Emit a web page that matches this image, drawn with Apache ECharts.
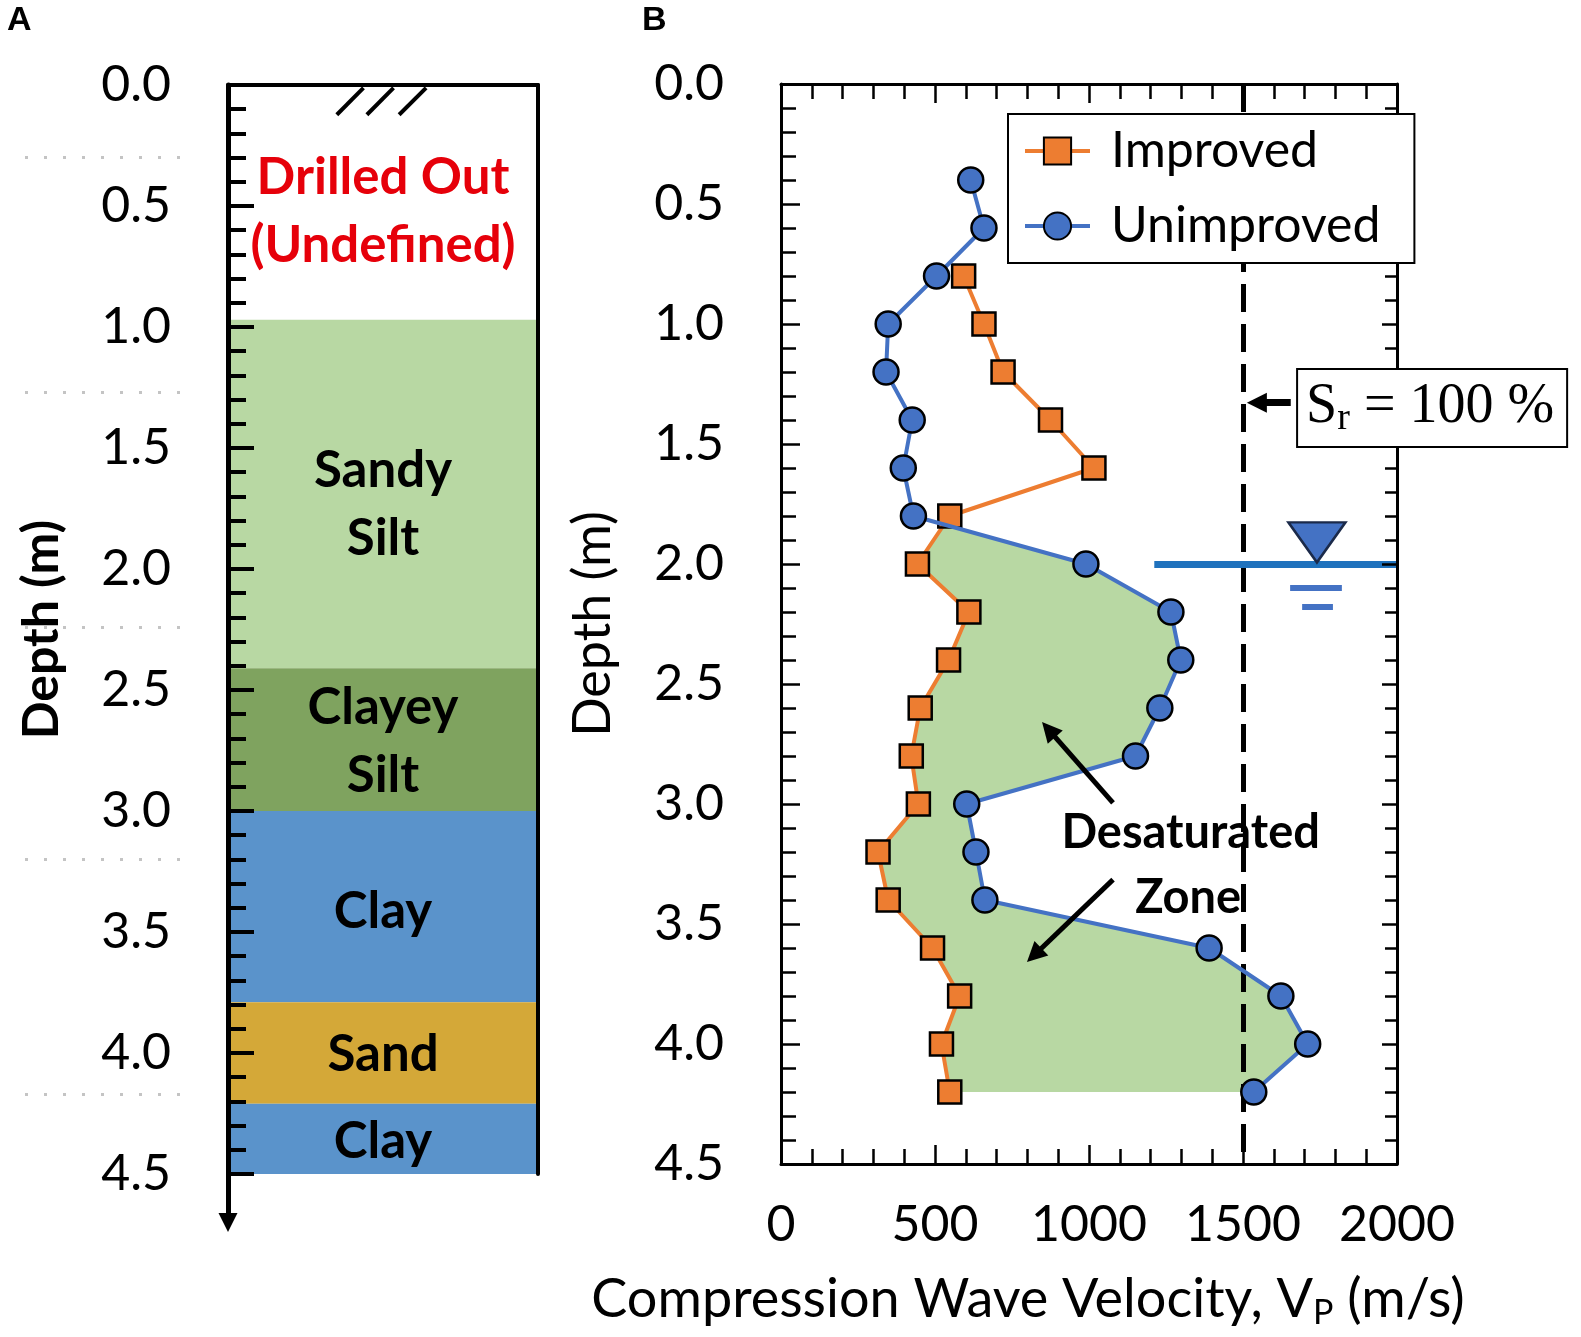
<!DOCTYPE html>
<html lang="en">
<head>
<meta charset="UTF-8">
<title>Soil profile and compression wave velocity</title>
<script src="https://cdn.jsdelivr.net/npm/echarts@6/dist/echarts.min.js"></script>
<style>
    html, body { margin: 0; padding: 0; background: #fff; }
    #main { width: 1581px; height: 1337px; }
</style>
</head>
<body>
<div id="main"></div>
<script type="text/javascript">
    // ---- panel B: compression wave velocity profiles ----
    var depthImproved = [0.8, 1.0, 1.2, 1.4, 1.6, 1.8, 2.0, 2.2, 2.4, 2.6, 2.8, 3.0, 3.2, 3.4, 3.6, 3.8, 4.0, 4.2];
    var vpImproved    = [593, 659, 721, 875, 1016, 548, 443, 610, 544, 452, 423, 446, 315, 348, 492, 580, 521, 548];

    var depthUnimproved = [0.4, 0.6, 0.8, 1.0, 1.2, 1.4, 1.6, 1.8, 2.0, 2.2, 2.4, 2.6, 2.8, 3.0, 3.2, 3.4, 3.6, 3.8, 4.0, 4.2];
    var vpUnimproved    = [616, 659, 505, 348, 341, 426, 397, 430, 990, 1266, 1298, 1230, 1151, 603, 633, 662, 1390, 1623, 1710, 1535];

    var depthTicks = [0, 0.5, 1.0, 1.5, 2.0, 2.5, 3.0, 3.5, 4.0, 4.5];

    var saturationVp = 1500;          // Sr = 100 %
    var waterTableDepth = 2.0;
    var waterLineVp = [1212, 2000];
    var waterSymbol = [1740, 1.91];
    var waterDashes = [[[1653, 2.10], [1821, 2.10]], [[1692, 2.18], [1792, 2.18]]];

    var zoneArrows = [[[1078, 2.995], [869, 2.69]], [[1078, 3.315], [822, 3.63]]];
    var zoneText = [['Desaturated', 1330, 3.12], ['Zone', 1322, 3.39]];
    var srArrow = [[1655, 1.328], [1545, 1.328]];
    var srBox = [2114, 1.35];

    // ---- panel A: soil column ----
    var layerTop    = [0.97, 2.41, 3.0, 3.79, 4.21];
    var layerBottom = [2.41, 3.0, 3.79, 4.21, 4.5];
    var layerColor  = ['#b8d8a3', '#7fa35f', '#5a93cb', '#d4a838', '#5a93cb'];
    var layerLabels = ['Drilled Out\n(Undefined)', 'Sandy\nSilt', 'Clayey\nSilt', 'Clay', 'Sand', 'Clay'];
    var layerLabelDepth = [0.523, 1.735, 2.715, 3.415, 4.005, 4.365];
    var hatchFrom = [[0.351, 0.123], [0.448, 0.123], [0.552, 0.123]];
    var hatchTo   = [[0.437, 0.012], [0.534, 0.012], [0.639, 0.012]];
    var columnArrow = [4.5, 4.70];
    var guideDepth = [0.30, 1.27, 2.24, 3.20, 4.17];

    function vpAtDepth(depths, vps, d) {
        var k = depths.indexOf(d);
        return k < 0 ? null : vps[k];
    }

    // polygon between the two profiles, from where unimproved crosses to the right
    var desatZone = (function () {
        var d = depthImproved, start = -1;
        for (var j = 0; j + 1 < d.length; j++) {
            var u0 = vpAtDepth(depthUnimproved, vpUnimproved, d[j]);
            var u1 = vpAtDepth(depthUnimproved, vpUnimproved, d[j + 1]);
            if (u0 < vpImproved[j] && u1 > vpImproved[j + 1]) start = j;
        }
        var g0 = vpAtDepth(depthUnimproved, vpUnimproved, d[start]) - vpImproved[start];
        var g1 = vpAtDepth(depthUnimproved, vpUnimproved, d[start + 1]) - vpImproved[start + 1];
        var t = -g0 / (g1 - g0);
        var pts = [[vpImproved[start] + t * (vpImproved[start + 1] - vpImproved[start]),
                    d[start] + t * (d[start + 1] - d[start])]];
        for (var k = start + 1; k < d.length; k++) {
            pts.push([vpAtDepth(depthUnimproved, vpUnimproved, d[k]), d[k]]);
        }
        for (var k2 = d.length - 1; k2 > start; k2--) {
            pts.push([vpImproved[k2], d[k2]]);
        }
        return pts;
    })();

    var FONT = 'Lato';
    var myChart = echarts.init(document.getElementById('main'));

    var tickStyle = {color: '#000', width: 2.5};
    var hidden = {color: 'rgba(0,0,0,0)', opacity: 1};
    function depthLabel(v) { return depthTicks.indexOf(v) >= 0 ? v.toFixed(1) : ''; }

    var option = {
        animation: false,
        backgroundColor: '#fff',
        title: [
            {text: 'A', left: 7, top: 4, padding: 0,
             textStyle: {fontFamily: 'Liberation Sans', fontWeight: 'bold', fontSize: 34, color: '#000'}},
            {text: 'B', left: 642, top: 4, padding: 0,
             textStyle: {fontFamily: 'Liberation Sans', fontWeight: 'bold', fontSize: 34, color: '#000'}}
        ],
        legend: {
            data: ['Improved', 'Unimproved'],
            orient: 'vertical',
            left: 1008, top: 114,
            itemWidth: 65, itemHeight: 34, itemGap: 25,
            padding: [12, 34, 12, 15],
            borderColor: '#000', borderWidth: 2,
            backgroundColor: '#fff',
            selectedMode: false,
            z: 10,
            lineStyle: {width: 4},
            textStyle: {fontFamily: FONT, fontSize: 50, lineHeight: 50, color: '#000', padding: [0, 0, 0, 16]}
        },
        grid: [
            {left: 228, top: 85, width: 310, height: 1089, containLabel: false, outerBoundsMode: 'none'},
            {left: 781, top: 84, width: 616, height: 1080, containLabel: false, outerBoundsMode: 'none'},
            {left: 25, top: 85, width: 160, height: 1089, containLabel: false, outerBoundsMode: 'none'}
        ],
        xAxis: [
            {gridIndex: 0, type: 'value', min: 0, max: 1, position: 'top', z: 5,
             axisLine: {onZero: false, lineStyle: {color: '#000', width: 4}},
             axisTick: {show: false}, axisLabel: {show: false}, splitLine: {show: false}},
            {gridIndex: 1, type: 'value', min: 0, max: 2000, interval: 500, position: 'bottom', z: 5,
             axisLine: {onZero: false, lineStyle: {color: '#000', width: 3}},
             axisTick: {inside: true, length: 19, lineStyle: tickStyle},
             minorTick: {show: true, splitNumber: 5, length: 15, lineStyle: tickStyle},
             splitLine: {show: false},
             axisLabel: {fontFamily: FONT, fontSize: 50, color: '#000', margin: 36,
                         formatter: function (v) { return String(v); }},
             name: 'Compression Wave Velocity, V{p|P} (m/s)',
             nameLocation: 'middle', nameGap: 106,
             nameTextStyle: {fontFamily: FONT, fontSize: 54, lineHeight: 60, color: '#000', padding: [0, 122, 0, 0],
                             rich: {p: {fontFamily: FONT, fontSize: 34, lineHeight: 24, verticalAlign: 'bottom', color: '#000'}}}},
            {gridIndex: 1, type: 'value', min: 0, max: 2000, interval: 500, position: 'top', z: 5,
             axisLine: {onZero: false, lineStyle: {color: '#000', width: 3}},
             axisTick: {inside: true, length: 19, lineStyle: tickStyle},
             minorTick: {show: true, splitNumber: 5, length: 15, lineStyle: tickStyle},
             splitLine: {show: false}, axisLabel: {show: false}},
            {gridIndex: 2, type: 'value', min: 0, max: 1, show: false}
        ],
        yAxis: [
            {gridIndex: 0, type: 'value', inverse: true, min: 0, max: 4.5, interval: 0.5, position: 'left', z: 5,
             axisLine: {onZero: false, lineStyle: {color: '#000', width: 5}},
             axisTick: {inside: true, length: 26, lineStyle: {color: '#000', width: 4}},
             minorTick: {show: true, splitNumber: 5, length: 18, lineStyle: {color: '#000', width: 4}},
             splitLine: {show: false},
             axisLabel: {fontFamily: FONT, fontSize: 50, color: '#000', margin: 57, formatter: depthLabel},
             name: 'Depth (m)', nameLocation: 'middle', nameGap: 158,
             nameTextStyle: {fontFamily: FONT, fontWeight: 'bold', fontSize: 50, lineHeight: 56, color: '#000'}},
            {gridIndex: 1, type: 'value', inverse: true, min: 0, max: 4.5, interval: 0.5, position: 'left', z: 5,
             axisLine: {onZero: false, lineStyle: {color: '#000', width: 3}},
             axisTick: {inside: true, length: 19, lineStyle: tickStyle},
             minorTick: {show: true, splitNumber: 5, length: 15, lineStyle: tickStyle},
             splitLine: {show: false},
             axisLabel: {fontFamily: FONT, fontSize: 50, color: '#000', margin: 57, formatter: depthLabel},
             name: 'Depth (m)', nameLocation: 'middle', nameGap: 160,
             nameTextStyle: {fontFamily: FONT, fontSize: 52, lineHeight: 56, color: '#000'}},
            {gridIndex: 1, type: 'value', inverse: true, min: 0, max: 4.5, interval: 0.5, position: 'right', z: 5,
             axisLine: {onZero: false, lineStyle: {color: '#000', width: 3}},
             axisTick: {inside: true, length: 15, lineStyle: tickStyle},
             minorTick: {show: true, splitNumber: 5, length: 12, lineStyle: tickStyle},
             splitLine: {show: false}, axisLabel: {show: false}},
            {gridIndex: 2, type: 'value', inverse: true, min: 0, max: 4.5, show: false},
            {gridIndex: 0, type: 'value', inverse: true, min: 0, max: 4.5, position: 'right', z: 5,
             axisLine: {onZero: false, lineStyle: {color: '#000', width: 4}},
             axisTick: {show: false}, axisLabel: {show: false}, splitLine: {show: false}}
        ],
        series: [
            // soil layers
            {
                type: 'custom', xAxisIndex: 0, yAxisIndex: 0, silent: true, z: 1,
                data: layerTop.map(function (t, i) { return [t, layerBottom[i], i]; }),
                renderItem: function (params, api) {
                    var p1 = api.coord([0, api.value(0)]);
                    var p2 = api.coord([1, api.value(1)]);
                    return {type: 'rect', shape: {x: p1[0], y: p1[1], width: p2[0] - p1[0], height: p2[1] - p1[1]},
                            style: {fill: layerColor[api.value(2)]}};
                }
            },
            // layer names
            {
                type: 'scatter', xAxisIndex: 0, yAxisIndex: 0, silent: true, symbolSize: 1, z: 6,
                itemStyle: hidden,
                data: layerLabelDepth.map(function (d, i) {
                    return {value: [0.5, d], name: layerLabels[i], label: {color: i === 0 ? '#e6000a' : '#000'}};
                }),
                label: {show: true, position: 'inside', formatter: '{b}', fontFamily: FONT, fontWeight: 'bold',
                        fontSize: 51, lineHeight: 68, align: 'center', opacity: 1, textBorderWidth: 0}
            },
            // ground surface hatch
            {
                type: 'lines', coordinateSystem: 'cartesian2d', xAxisIndex: 0, yAxisIndex: 0, silent: true, z: 6,
                clip: false,
                lineStyle: {color: '#000', width: 4, opacity: 1},
                data: hatchFrom.map(function (p, i) { return {coords: [p, hatchTo[i]]}; })
            },
            // depth arrow below column
            {
                type: 'lines', coordinateSystem: 'cartesian2d', xAxisIndex: 0, yAxisIndex: 0, silent: true, z: 6,
                clip: false, symbol: ['none', 'triangle'], symbolSize: 19,
                lineStyle: {color: '#000', width: 5, opacity: 1},
                data: [{coords: [[0, columnArrow[0]], [0, columnArrow[1]]]}]
            },
            // faint dotted guides left of panel A
            {
                type: 'lines', coordinateSystem: 'cartesian2d', xAxisIndex: 3, yAxisIndex: 3, silent: true,
                lineStyle: {color: '#c4c4c4', width: 3, type: [3, 16], opacity: 1},
                data: guideDepth.map(function (d) { return {coords: [[0, d], [1, d]]}; })
            },
            // desaturated zone
            {
                type: 'custom', xAxisIndex: 1, yAxisIndex: 1, silent: true, z: 1,
                data: [[0, 0]],
                renderItem: function (params, api) {
                    return {type: 'polygon', shape: {points: desatZone.map(function (p) { return api.coord(p); })},
                            style: {fill: '#b8d8a3'}};
                }
            },
            // Sr = 100 % line
            {
                type: 'lines', coordinateSystem: 'cartesian2d', xAxisIndex: 1, yAxisIndex: 1, silent: true, z: 2,
                lineStyle: {color: '#000', width: 5, type: [28, 12], opacity: 1},
                data: [{coords: [[saturationVp, 0], [saturationVp, 4.5]]}]
            },
            // water table
            {
                type: 'lines', coordinateSystem: 'cartesian2d', xAxisIndex: 1, yAxisIndex: 1, silent: true, z: 2,
                lineStyle: {color: '#1f72bd', width: 7, opacity: 1},
                data: [{coords: [[waterLineVp[0], waterTableDepth], [waterLineVp[1], waterTableDepth]]}]
            },
            {
                type: 'lines', coordinateSystem: 'cartesian2d', xAxisIndex: 1, yAxisIndex: 1, silent: true, z: 2,
                lineStyle: {color: '#4472c4', width: 6, opacity: 1},
                data: waterDashes.map(function (c) { return {coords: c}; })
            },
            {
                type: 'scatter', xAxisIndex: 1, yAxisIndex: 1, silent: true, z: 3,
                symbol: 'triangle', symbolRotate: 180, symbolSize: [57, 40],
                itemStyle: {color: '#4472c4', borderColor: '#1b2a4a', borderWidth: 2.5, opacity: 1},
                data: [waterSymbol]
            },
            {
                name: 'Improved', type: 'line', xAxisIndex: 1, yAxisIndex: 1, z: 4,
                symbol: 'rect', symbolSize: 23,
                itemStyle: {color: '#ed7d31', borderColor: '#000', borderWidth: 2.5},
                lineStyle: {color: '#ed7d31', width: 4},
                data: depthImproved.map(function (d, i) { return [vpImproved[i], d]; })
            },
            {
                name: 'Unimproved', type: 'line', xAxisIndex: 1, yAxisIndex: 1, z: 5,
                symbol: 'circle', symbolSize: 25,
                itemStyle: {color: '#4472c4', borderColor: '#000', borderWidth: 2.5},
                lineStyle: {color: '#4472c4', width: 4},
                data: depthUnimproved.map(function (d, i) { return [vpUnimproved[i], d]; })
            },
            // annotation arrows
            {
                type: 'lines', coordinateSystem: 'cartesian2d', xAxisIndex: 1, yAxisIndex: 1, silent: true, z: 6,
                clip: false, symbol: ['none', 'triangle'], symbolSize: 20,
                lineStyle: {color: '#000', width: 5, opacity: 1},
                data: zoneArrows.map(function (c) { return {coords: c}; }).concat([{coords: srArrow, lineStyle: {width: 7}}])
            },
            // annotation texts
            {
                type: 'scatter', xAxisIndex: 1, yAxisIndex: 1, silent: true, symbolSize: 1, z: 7,
                itemStyle: hidden,
                data: zoneText.map(function (t) { return {value: [t[1], t[2]], name: t[0]}; }),
                label: {show: true, position: 'inside', formatter: '{b}', fontFamily: FONT, fontWeight: 'bold',
                        fontSize: 47, color: '#000', opacity: 1, textBorderWidth: 0}
            },
            {
                type: 'scatter', xAxisIndex: 1, yAxisIndex: 1, silent: true, symbolSize: 1, z: 8, clip: false,
                itemStyle: hidden,
                data: [srBox],
                label: {
                    show: true, position: 'inside', opacity: 1, textBorderWidth: 0,
                    formatter: '{s|S}{r|r}{s| = 100 %}',
                    backgroundColor: '#fff', borderColor: '#000', borderWidth: 2,
                    padding: [6, 12, 8, 8],
                    rich: {
                        s: {fontFamily: 'Liberation Serif', fontSize: 56, lineHeight: 62, color: '#000'},
                        r: {fontFamily: 'Liberation Serif', fontSize: 38, lineHeight: 30, verticalAlign: 'bottom', color: '#000'}
                    }
                }
            }
        ]
    };

    myChart.setOption(option);
</script>
</body>
</html>
